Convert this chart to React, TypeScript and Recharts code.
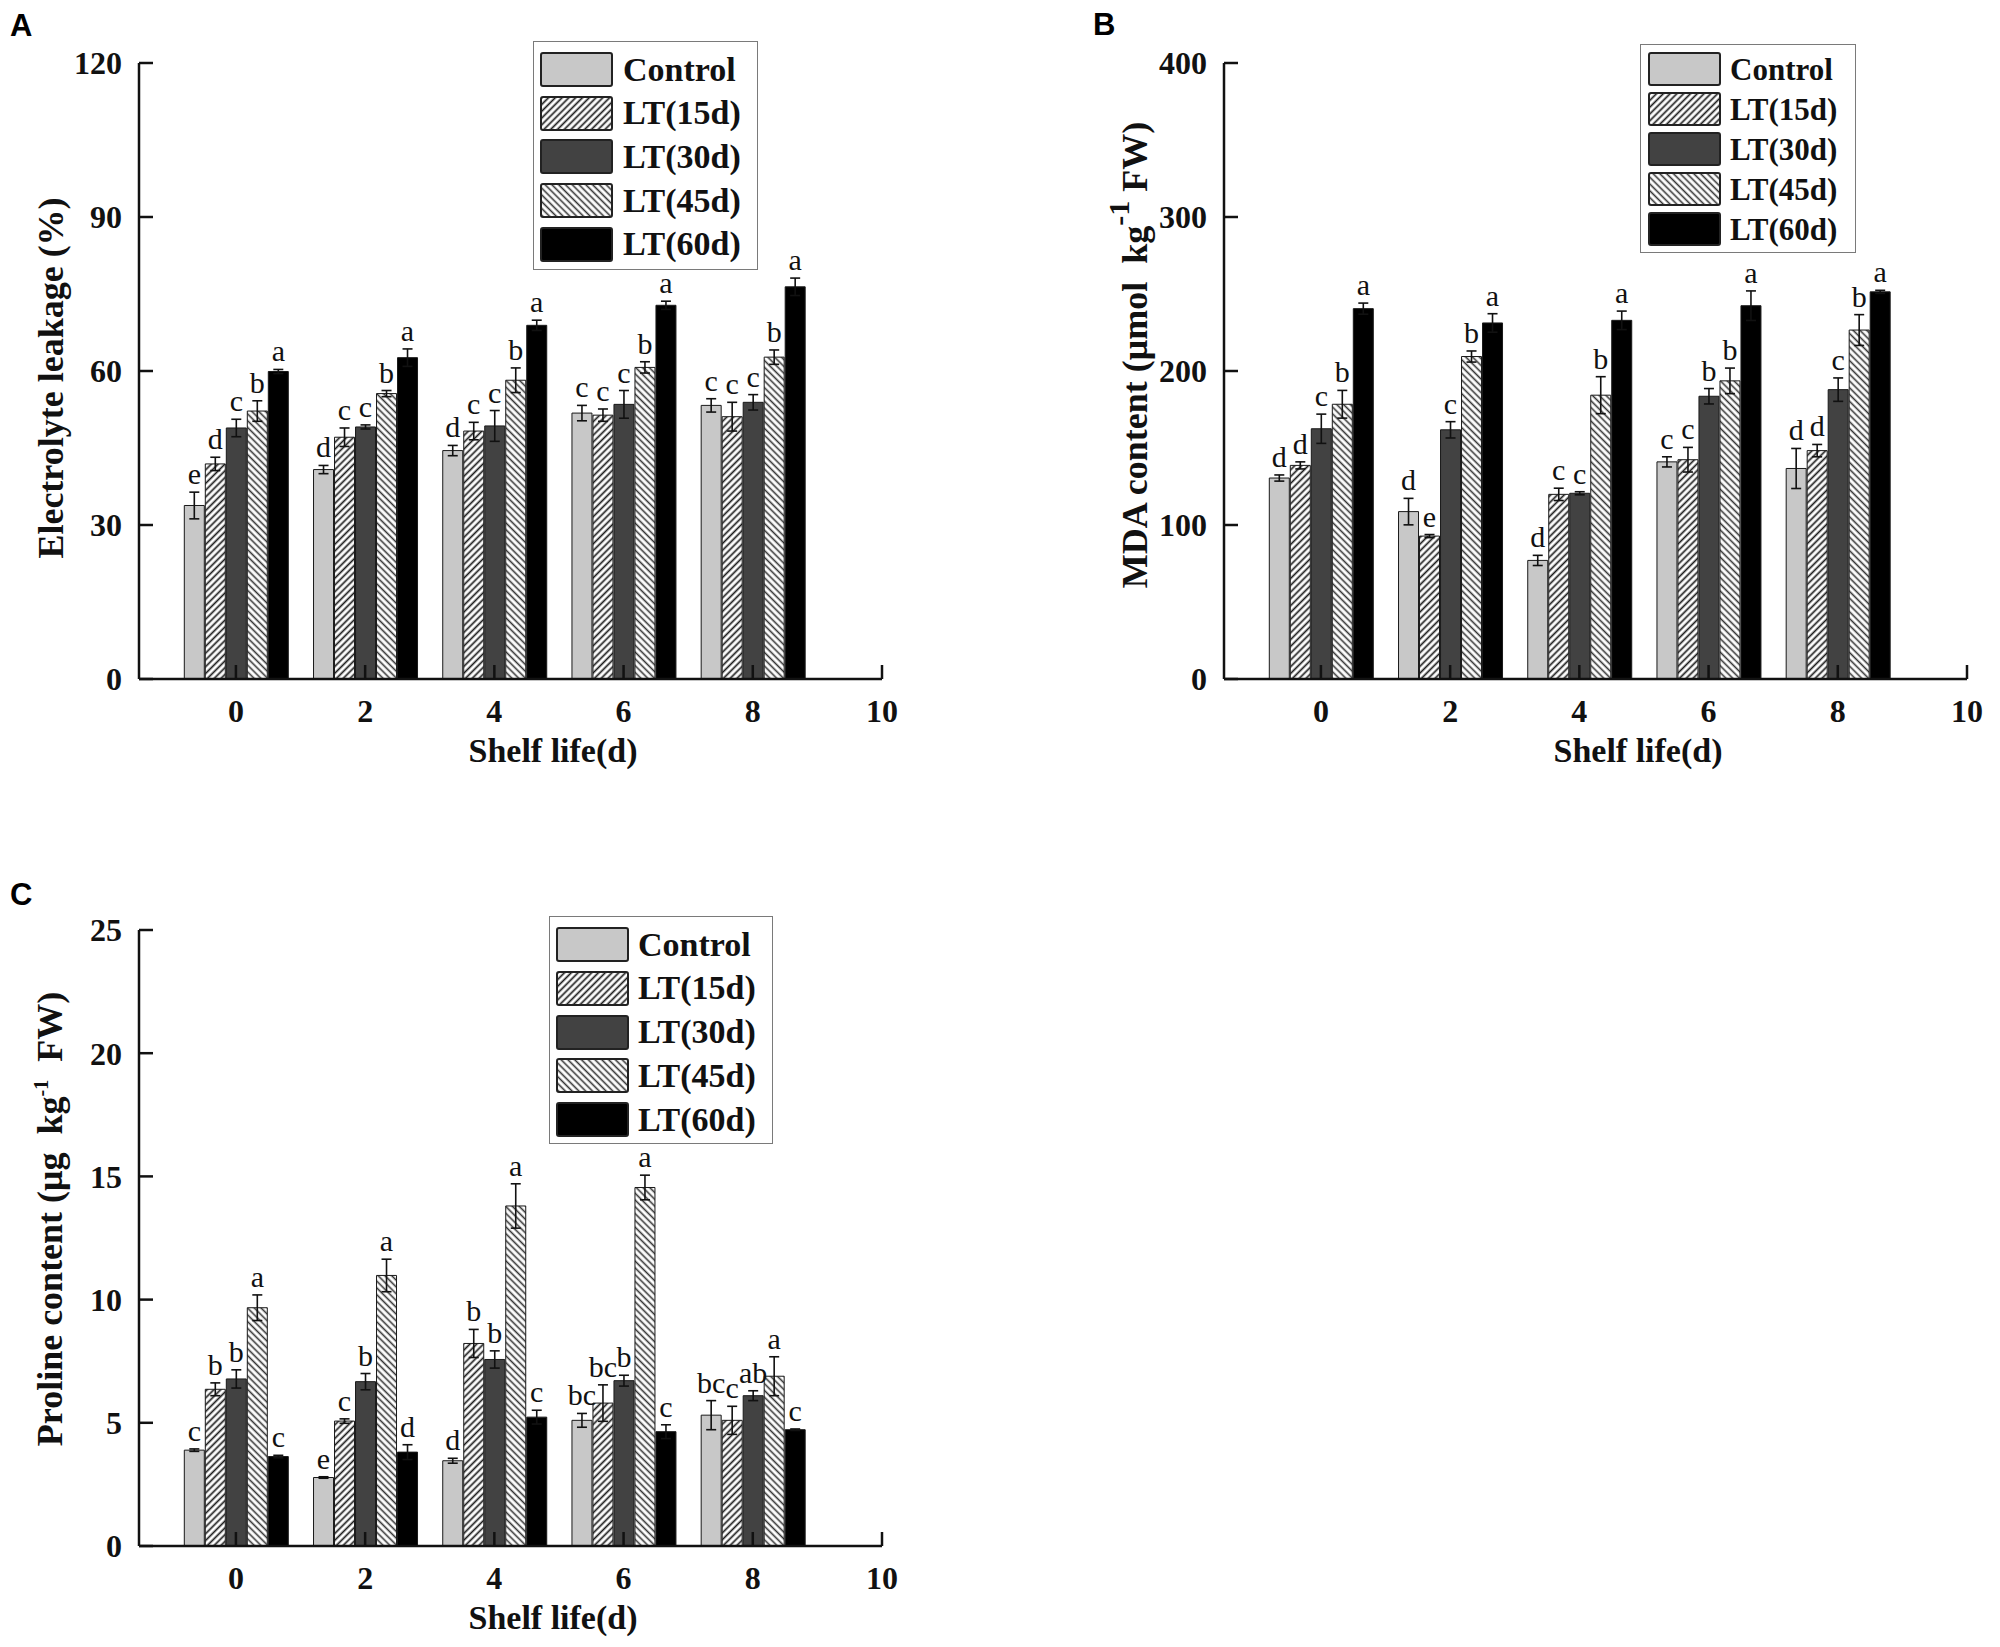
import React from 'react';
import { BarChart, Bar, XAxis, YAxis, ErrorBar, LabelList, Legend } from 'recharts';

const DAYS = [0, 2, 4, 6, 8];
const X_TICKS = [0, 2, 4, 6, 8, 10];
const SERIES = ['Control', 'LT(15d)', 'LT(30d)', 'LT(45d)', 'LT(60d)'];
const FILLS = ['#c8c8c8', 'url(#hatchUp)', '#424242', 'url(#hatchDown)', '#000000'];

// A - electrolyte leakage (%)
const EL_VALUES = [
  [33.8, 40.8, 44.5, 51.8, 53.3],
  [41.9, 47.1, 48.3, 51.4, 51.1],
  [48.9, 49.1, 49.3, 53.5, 53.9],
  [52.2, 55.6, 58.2, 60.7, 62.7],
  [59.9, 62.6, 68.9, 72.8, 76.4],
];
const EL_ERRORS = [
  [2.6, 0.8, 1.0, 1.5, 1.3],
  [1.3, 1.8, 1.7, 1.2, 2.8],
  [1.7, 0.4, 3.0, 2.7, 1.5],
  [2.0, 0.6, 2.4, 1.1, 1.4],
  [0.4, 1.7, 1.0, 0.8, 1.7],
];
const EL_LETTERS = [
  ['e', 'd', 'd', 'c', 'c'],
  ['d', 'c', 'c', 'c', 'c'],
  ['c', 'c', 'c', 'c', 'c'],
  ['b', 'b', 'b', 'b', 'b'],
  ['a', 'a', 'a', 'a', 'a'],
];

// B - MDA content
const MDA_VALUES = [
  [130.5, 108.7, 77, 141, 136.7],
  [138.7, 92.8, 119.9, 142.4, 148.3],
  [162.5, 161.8, 120.6, 183.6, 187.9],
  [178.4, 209.4, 184.3, 193.6, 226.6],
  [240.5, 231.2, 232.9, 242.4, 251.4],
];
const MDA_ERRORS = [
  [2, 8.6, 3.3, 3.3, 13],
  [2.3, 1, 4, 8, 4],
  [9.5, 5.3, 1, 5, 7.6],
  [9, 3.6, 12, 8.3, 10],
  [3.6, 6, 6, 9.6, 1],
];
const MDA_LETTERS = [
  ['d', 'd', 'd', 'c', 'd'],
  ['d', 'e', 'c', 'c', 'd'],
  ['c', 'c', 'c', 'b', 'c'],
  ['b', 'b', 'b', 'b', 'b'],
  ['a', 'a', 'a', 'a', 'a'],
];

// C - proline content
const PRO_VALUES = [
  [3.89, 2.78, 3.46, 5.1, 5.31],
  [6.36, 5.07, 8.22, 5.8, 5.1],
  [6.78, 6.67, 7.57, 6.71, 6.1],
  [9.67, 10.98, 13.8, 14.55, 6.89],
  [3.63, 3.81, 5.23, 4.64, 4.72],
];
const PRO_ERRORS = [
  [0.05, 0.03, 0.1, 0.28, 0.59],
  [0.26, 0.09, 0.57, 0.74, 0.57],
  [0.37, 0.33, 0.35, 0.22, 0.2],
  [0.52, 0.66, 0.9, 0.5, 0.79],
  [0.05, 0.3, 0.28, 0.28, 0.03],
];
const PRO_LETTERS = [
  ['c', 'e', 'd', 'bc', 'bc'],
  ['b', 'c', 'b', 'bc', 'c'],
  ['b', 'b', 'b', 'b', 'ab'],
  ['a', 'a', 'a', 'a', 'a'],
  ['c', 'd', 'c', 'c', 'c'],
];

const SERIF = "'Liberation Serif', 'Times New Roman', serif";
const SANS = "'Liberation Sans', Arial, sans-serif";

const CHART_W = 915;
const CHART_H = 780;
const PLOT_LEFT = 139;
const PLOT_TOP = 63;
const PLOT_RIGHT = 882;
const PLOT_BOTTOM = 679;
const Y_AXIS_W = 80;
const X_AXIS_H = 60;

const buildRows = (vals: number[][], errs: number[][], lets: string[][]) =>
  DAYS.map((day, d) => {
    const row: any = { day };
    SERIES.forEach((_, i) => {
      row[`s${i}`] = vals[i][d];
      row[`e${i}`] = errs[i][d];
      row[`l${i}`] = lets[i][d];
    });
    return row;
  });

const letterLabel = (rows: any[], i: number, ppu: number) => (props: any) => {
  const vb = props.viewBox || props;
  const idx = props.index;
  const row = rows[idx] || {};
  const errPx = (row[`e${i}`] || 0) * ppu;
  return (
    <text
      x={vb.x + vb.width / 2}
      y={vb.y - errPx - 8}
      textAnchor="middle"
      fontFamily={SERIF}
      fontSize={30}
      fill="#111"
    >
      {props.value}
    </text>
  );
};

interface LegendCfg {
  x: number; y: number; w: number; h: number;
  sx: number; sy: number; pitch: number; sh: number; gap: number; fs: number;
}

const renderLegend = (cfg: LegendCfg) => () => (
  <div
    style={{
      width: cfg.w, height: cfg.h, border: '1.5px solid #7a7a7a', boxSizing: 'border-box',
      position: 'relative', background: '#fff',
    }}
  >
    {SERIES.map((name, i) => (
      <div
        key={name}
        style={{
          position: 'absolute', left: cfg.sx, top: cfg.sy + i * cfg.pitch, height: cfg.sh,
          display: 'flex', alignItems: 'center', whiteSpace: 'nowrap',
        }}
      >
        <svg width={73} height={cfg.sh} style={{ display: 'block' }}>
          <rect x={1} y={1} width={71} height={cfg.sh - 2} rx={2} fill={FILLS[i]} stroke="#222" strokeWidth={2} />
        </svg>
        <span style={{ marginLeft: cfg.gap, fontFamily: SERIF, fontWeight: 'bold', fontSize: cfg.fs, color: '#111', lineHeight: 1 }}>
          {name}
        </span>
      </div>
    ))}
  </div>
);

interface PanelProps {
  left: number; top: number; letter: string; letterX: number; letterY: number;
  rows: any[]; yMax: number; yTicks: number[]; yTitle: React.ReactNode; legend: LegendCfg;
}

const Panel: React.FC<PanelProps> = ({ left, top, letter, letterX, letterY, rows, yMax, yTicks, yTitle, legend }) => {
  const ppu = (PLOT_BOTTOM - PLOT_TOP) / yMax;
  const tickStyle = { fontSize: 32, fontFamily: SERIF, fontWeight: 'bold', fill: '#111' };
  const lineStyle = { stroke: '#111', strokeWidth: 2.5 };
  return (
    <div style={{ position: 'absolute', left, top }}>
      <BarChart
        width={CHART_W}
        height={CHART_H}
        data={rows}
        barGap={1}
        margin={{
          top: PLOT_TOP,
          right: CHART_W - PLOT_RIGHT,
          bottom: CHART_H - PLOT_BOTTOM - X_AXIS_H,
          left: PLOT_LEFT - Y_AXIS_W,
        }}
      >
        <text x={letterX} y={letterY} fontFamily={SANS} fontWeight="bold" fontSize={31} fill="#000">
          {letter}
        </text>
        <XAxis
          type="number"
          dataKey="day"
          domain={[-1.5, 10]}
          ticks={X_TICKS}
          interval={0}
          height={X_AXIS_H}
          tick={tickStyle}
          axisLine={lineStyle}
          tickLine={lineStyle}
          tickSize={-14}
          tickMargin={34}
        />
        <YAxis
          type="number"
          domain={[0, yMax]}
          ticks={yTicks}
          interval={0}
          width={Y_AXIS_W}
          tick={tickStyle}
          axisLine={lineStyle}
          tickLine={lineStyle}
          tickSize={-14}
          tickMargin={31}
        />
        {SERIES.map((name, i) => (
          <Bar
            key={name}
            dataKey={`s${i}`}
            name={name}
            fill={FILLS[i]}
            stroke="#1a1a1a"
            strokeWidth={1}
            barSize={20}
            isAnimationActive={false}
          >
            <ErrorBar dataKey={`e${i}`} width={5} stroke="#111" strokeWidth={1.6} direction="y" isAnimationActive={false} />
            <LabelList dataKey={`l${i}`} content={letterLabel(rows, i, ppu)} />
          </Bar>
        ))}
        <Legend
          layout="vertical"
          align="center"
          verticalAlign="middle"
          content={renderLegend(legend)}
          wrapperStyle={{ left: legend.x, top: legend.y, width: legend.w, height: legend.h }}
        />
        {yTitle}
        <text x={553} y={762} textAnchor="middle" fontFamily={SERIF} fontWeight="bold" fontSize={34} fill="#111">
          Shelf life(d)
        </text>
      </BarChart>
    </div>
  );
};

const titleProps = { textAnchor: 'middle' as const, fontFamily: SERIF, fontWeight: 'bold', fontSize: 36, fill: '#111' };

export default function App() {
  return (
    <div style={{ position: 'absolute', left: 0, top: 0, width: 2000, height: 1647, background: '#fff', overflow: 'hidden' }}>
      <svg width={0} height={0} style={{ position: 'absolute' }}>
        <defs>
          <pattern id="hatchUp" patternUnits="userSpaceOnUse" width={4.8} height={4.8} patternTransform="rotate(45)">
            <rect width={4.8} height={4.8} fill="#fff" />
            <line x1={2.4} y1={0} x2={2.4} y2={4.8} stroke="#1a1a1a" strokeWidth={1.7} />
          </pattern>
          <pattern id="hatchDown" patternUnits="userSpaceOnUse" width={4.8} height={4.8} patternTransform="rotate(-45)">
            <rect width={4.8} height={4.8} fill="#fff" />
            <line x1={2.4} y1={0} x2={2.4} y2={4.8} stroke="#333" strokeWidth={1.6} />
          </pattern>
        </defs>
      </svg>

      <Panel
        left={0}
        top={0}
        letter="A"
        letterX={10}
        letterY={36}
        rows={buildRows(EL_VALUES, EL_ERRORS, EL_LETTERS)}
        yMax={120}
        yTicks={[0, 30, 60, 90, 120]}
        yTitle={
          <text {...titleProps} transform="translate(63,378) rotate(-90)">
            Electrolyte leakage (%)
          </text>
        }
        legend={{ x: 533, y: 41, w: 225, h: 229, sx: 6, sy: 10, pitch: 43.7, sh: 35, gap: 10, fs: 34 }}
      />

      <Panel
        left={1085}
        top={0}
        letter="B"
        letterX={8}
        letterY={35}
        rows={buildRows(MDA_VALUES, MDA_ERRORS, MDA_LETTERS)}
        yMax={400}
        yTicks={[0, 100, 200, 300, 400]}
        yTitle={
          <text {...titleProps} transform="translate(62,355) rotate(-90)">
            {'MDA content (\u03bcmol\u00a0\u00a0kg'}
            <tspan dy={-18} fontSize={30}>-1</tspan>
            <tspan dy={18}>{'\u00a0FW)'}</tspan>
          </text>
        }
        legend={{ x: 555, y: 44, w: 216, h: 209, sx: 7, sy: 7, pitch: 40, sh: 34, gap: 9, fs: 31 }}
      />

      <Panel
        left={0}
        top={867}
        letter="C"
        letterX={10}
        letterY={38}
        rows={buildRows(PRO_VALUES, PRO_ERRORS, PRO_LETTERS)}
        yMax={25}
        yTicks={[0, 5, 10, 15, 20, 25]}
        yTitle={
          <text {...titleProps} transform="translate(62,352) rotate(-90)">
            {'Proline content (\u03bcg\u00a0\u00a0kg'}
            <tspan dy={-14} fontSize={20}>-1</tspan>
            <tspan dy={14}>{'\u00a0\u00a0FW)'}</tspan>
          </text>
        }
        legend={{ x: 549, y: 49, w: 224, h: 228, sx: 6, sy: 10, pitch: 43.75, sh: 35, gap: 9, fs: 34 }}
      />
    </div>
  );
}
